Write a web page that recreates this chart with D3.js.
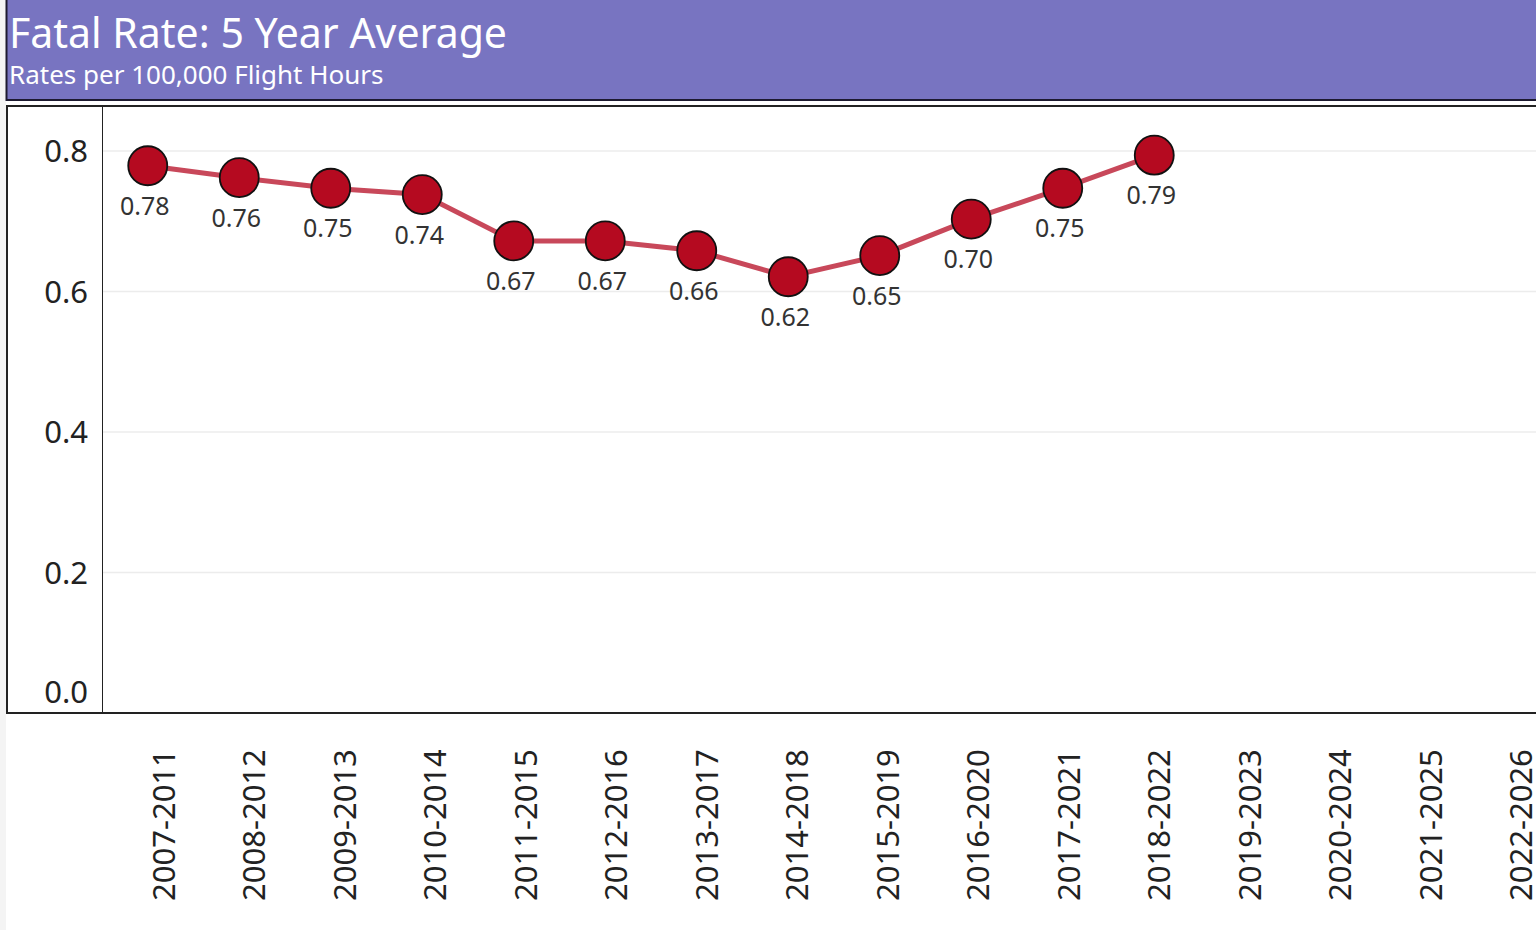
<!DOCTYPE html>
<html lang="en">
<head>
<meta charset="UTF-8">
<title>Fatal Rate: 5 Year Average</title>
<style>
    body {
        margin: 0;
        background: #f4f4f4;
        font-family: "Noto Sans", sans-serif;
        overflow: hidden;
    }
    svg {
        display: block;
    }
    .grid line {
        stroke: #ececec;
        stroke-width: 1.5px;
    }
    .ylab {
        fill: #222;
        font-size: 31px;
    }
    .xlab {
        fill: #222;
        font-size: 31px;
    }
    .vlab {
        fill: #333;
        font-size: 25px;
    }
</style>
</head>
<body>
<div id="chart"></div>
<script src="https://d3js.org/d3.v7.min.js"></script>
<script>
    var periods = ["2007-2011","2008-2012","2009-2013","2010-2014","2011-2015","2012-2016",
                   "2013-2017","2014-2018","2015-2019","2016-2020","2017-2021","2018-2022",
                   "2019-2023","2020-2024","2021-2025","2022-2026"];
    var rates = [0.779, 0.762, 0.747, 0.738, 0.672, 0.672, 0.658, 0.621, 0.651, 0.703, 0.747, 0.794];
    var yTicks = [0.0, 0.2, 0.4, 0.6, 0.8];

    var W = 1536, H = 930;
    var svg = d3.select("#chart").append("svg")
        .attr("width", W).attr("height", H);

    // white panel area
    svg.append("rect").attr("x", 6).attr("y", 0).attr("width", W - 6).attr("height", H)
        .attr("fill", "#fff");

    // header
    svg.append("rect").attr("x", 6).attr("y", 0).attr("width", W - 6).attr("height", 100)
        .attr("fill", "#7874c1");
    svg.append("line").attr("x1", 6.5).attr("x2", 6.5).attr("y1", 0).attr("y2", 101)
        .attr("stroke", "#1d1a30").attr("stroke-width", 2);
    svg.append("line").attr("x1", 6).attr("x2", W).attr("y1", 100).attr("y2", 100)
        .attr("stroke", "#1d1a30").attr("stroke-width", 2);
    svg.append("text").attr("x", 9).attr("y", 48)
        .attr("fill", "#fff").style("font-size", "41px")
        .text("Fatal Rate: 5 Year Average");
    svg.append("text").attr("x", 9).attr("y", 84)
        .attr("fill", "#fff").style("font-size", "26px")
        .text("Rates per 100,000 Flight Hours");

    var x = d3.scaleBand().domain(periods).range([102, 102 + 91.5 * periods.length]);
    // rotated tick labels sit on a slightly tighter pitch than the marks
    var xl = d3.scaleBand().domain(periods).range([118.5, 118.5 + 90.5 * periods.length]);
    var y = d3.scaleLinear().domain([0, 0.8]).range([713, 151]);

    var plot = svg.append("g");

    // gridlines
    plot.append("g").attr("class", "grid")
        .selectAll("line").data(yTicks.filter(function(d) { return d > 0; }))
        .enter().append("line")
        .attr("x1", 103).attr("x2", W)
        .attr("y1", function(d) { return y(d); })
        .attr("y2", function(d) { return y(d); });

    // frame
    svg.append("line").attr("x1", 6).attr("x2", W).attr("y1", 106).attr("y2", 106)
        .attr("stroke", "#222").attr("stroke-width", 2);
    svg.append("line").attr("x1", 7).attr("x2", 7).attr("y1", 105).attr("y2", 714)
        .attr("stroke", "#222").attr("stroke-width", 2);
    svg.append("line").attr("x1", 102.5).attr("x2", 102.5).attr("y1", 106).attr("y2", 713)
        .attr("stroke", "#222").attr("stroke-width", 1);
    svg.append("line").attr("x1", 6).attr("x2", W).attr("y1", 713).attr("y2", 713)
        .attr("stroke", "#222").attr("stroke-width", 2);

    // y labels
    svg.selectAll(".ylab").data(yTicks).enter().append("text")
        .attr("class", "ylab")
        .attr("text-anchor", "end")
        .attr("x", 88)
        .attr("y", function(d) { return d === 0 ? 703 : y(d) + 11; })
        .text(function(d) { return d3.format(".1f")(d); });

    // x labels
    svg.selectAll(".xlab").data(periods).enter().append("text")
        .attr("class", "xlab")
        .attr("transform", function(d) {
            return "translate(" + (xl(d) + xl.bandwidth() / 2 + 11) + ",901) rotate(-90)";
        })
        .text(function(d) { return d; });

    var pts = rates.map(function(v, i) { return { p: periods[i], v: v }; });
    var cx = function(d) { return x(d.p) + x.bandwidth() / 2; };

    plot.append("path").datum(pts)
        .attr("fill", "none")
        .attr("stroke", "#c8485a")
        .attr("stroke-width", 5)
        .attr("d", d3.line().x(cx).y(function(d) { return y(d.v); }));

    plot.selectAll("circle").data(pts).enter().append("circle")
        .attr("cx", cx)
        .attr("cy", function(d) { return y(d.v); })
        .attr("r", 19.5)
        .attr("fill", "#b50a20")
        .attr("stroke", "#111")
        .attr("stroke-width", 1.8);

    plot.selectAll(".vlab").data(pts).enter().append("text")
        .attr("class", "vlab")
        .attr("text-anchor", "middle")
        .attr("x", function(d) { return cx(d) - 3; })
        .attr("y", function(d) { return y(d.v) + 49; })
        .text(function(d) { return d3.format(".2f")(d.v); });
</script>
</body>
</html>
